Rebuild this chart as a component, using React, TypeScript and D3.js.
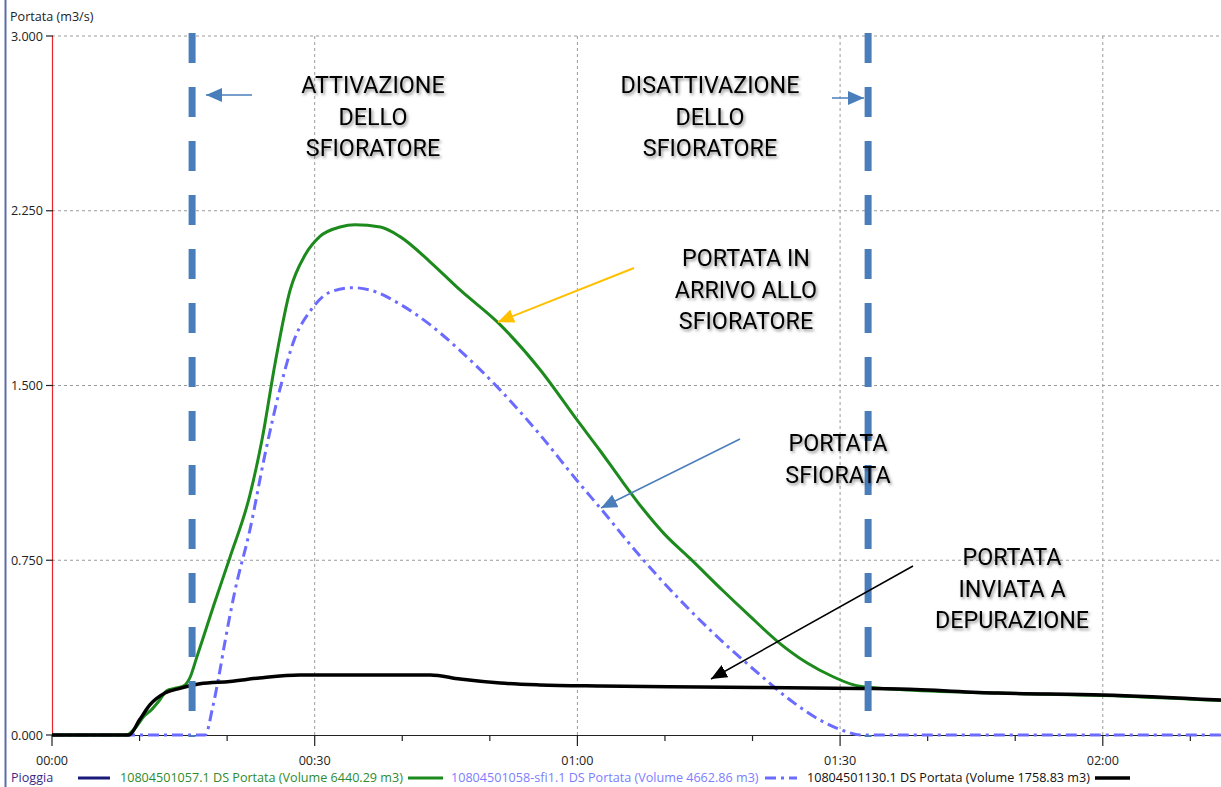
import React from "react";
import * as d3 from "d3";

// Time axis in minutes from 00:00, flow in m3/s
const X_MAX = 133.5;
const Y_TICKS = [0, 0.75, 1.5, 2.25, 3.0];
const X_MAJOR = [0, 30, 60, 90, 120];
const X_MINOR = [10, 20, 40, 50, 70, 80, 100, 110, 130];
const X_LABELS = ["00:00", "00:30", "01:00", "01:30", "02:00"];

// Incoming flow to the overflow structure (green)
const inflowT = [0, 8.5, 9.5, 10.5, 11.4, 12.3, 13.1, 14.0, 15.0, 15.8, 16.5, 17.2, 18.5, 20.3, 22.6, 24.0, 25.5, 27.2, 28.9, 30.6, 32.9, 34.6, 37.5, 39.7, 43.2, 46.6, 51.2, 55.7, 60.0, 62.6, 64.9, 67.5, 70.0, 72.8, 76.6, 79.7, 82.9, 86.2, 89.2, 91.9, 96.8, 108, 120, 133.5];
const inflowQ = [0, 0, 0.03, 0.08, 0.11, 0.15, 0.19, 0.2, 0.21, 0.25, 0.33, 0.41, 0.56, 0.76, 1.03, 1.27, 1.6, 1.91, 2.06, 2.14, 2.18, 2.19, 2.18, 2.14, 2.03, 1.91, 1.76, 1.57, 1.35, 1.22, 1.1, 0.97, 0.86, 0.76, 0.62, 0.51, 0.4, 0.31, 0.25, 0.212, 0.195, 0.18, 0.17, 0.148];

// Overflowed flow (blue dash-dot)
const spillT = [0, 17.5, 18.3, 19.0, 19.8, 20.9, 22.6, 24.3, 26.0, 27.7, 29.5, 31.7, 34.3, 36.3, 39.7, 43.2, 46.6, 51.2, 55.7, 60.0, 62.7, 67.1, 71.7, 76.3, 80.8, 84.3, 87.7, 90.5, 92.3, 133.5];
const spillQ = [0, 0, 0.11, 0.24, 0.41, 0.62, 0.88, 1.2, 1.48, 1.7, 1.82, 1.9, 1.92, 1.91, 1.85, 1.76, 1.65, 1.48, 1.29, 1.09, 0.97, 0.77, 0.58, 0.41, 0.26, 0.15, 0.064, 0.017, 0, 0];

// Flow sent to treatment (black)
const treatT = [0, 8.8, 10.0, 11.2, 12.9, 14.6, 16.9, 20.3, 23.7, 28.3, 34.0, 43.2, 46.6, 51.2, 55.7, 62.6, 74.0, 92.3, 96.8, 108, 120, 133.5];
const treatQ = [0, 0, 0.065, 0.13, 0.18, 0.2, 0.22, 0.23, 0.245, 0.258, 0.258, 0.258, 0.24, 0.223, 0.215, 0.21, 0.206, 0.2, 0.197, 0.18, 0.172, 0.15];

// Activation / deactivation times of the overflow (minutes)
const EVENTS = [16.0, 93.2];

const LEGEND = [
  { label: "10804501057.1 DS Portata (Volume 6440.29 m3)", color: "#2e8b2e" },
  { label: "10804501058-sfi1.1 DS Portata (Volume 4662.86 m3)", color: "#7d7dff" },
  { label: "10804501130.1 DS Portata (Volume 1758.83 m3)", color: "#111" },
];

const W = 1221;
const H = 787;

export default function App() {
  const x = d3.scaleLinear().domain([0, X_MAX]).range([52, 1221]);
  const y = d3.scaleLinear().domain([0, 3]).range([735, 36]);

  const line = (ts: number[], qs: number[]) =>
    d3
      .line<number>()
      .x((_, i) => x(ts[i]))
      .y((d) => y(d))
      .curve(d3.curveMonotoneX)(qs) || "";

  const annFont = "Roboto, 'Open Sans', sans-serif";
  const axFont = "'Open Sans', 'Noto Sans', sans-serif";
  const axSize = 12.6;

  const annotations = [
    { cx: 373, y0: 93, lines: ["ATTIVAZIONE", "DELLO", "SFIORATORE"] },
    { cx: 710, y0: 93, lines: ["DISATTIVAZIONE", "DELLO", "SFIORATORE"] },
    { cx: 746, y0: 266, lines: ["PORTATA IN", "ARRIVO ALLO", "SFIORATORE"] },
    { cx: 838, y0: 451, lines: ["PORTATA", "SFIORATA"] },
    { cx: 1012, y0: 565, lines: ["PORTATA", "INVIATA A", "DEPURAZIONE"] },
  ];

  return (
    <svg
      width={W}
      height={H}
      style={{ position: "absolute", left: 0, top: 0, background: "#fff" }}
    >
      <defs>
        <filter id="txtShadow" x="-10%" y="-30%" width="130%" height="170%">
          <feDropShadow dx="1.5" dy="2" stdDeviation="1.6" floodColor="#000" floodOpacity="0.45" />
        </filter>
        <marker id="arrOrange" markerUnits="userSpaceOnUse" markerWidth="18" markerHeight="14" refX="16" refY="7" orient="auto">
          <path d="M0,0 L16,7 L0,14 Z" fill="#ffc000" />
        </marker>
        <marker id="arrBlue" markerUnits="userSpaceOnUse" markerWidth="18" markerHeight="14" refX="16" refY="7" orient="auto">
          <path d="M0,0 L16,7 L0,14 Z" fill="#4a7ebb" />
        </marker>
        <marker id="arrBlack" markerUnits="userSpaceOnUse" markerWidth="18" markerHeight="14" refX="16" refY="7" orient="auto">
          <path d="M0,0 L16,7 L0,14 Z" fill="#000" />
        </marker>
      </defs>

      {/* window frame edge */}
      <line x1={5.5} x2={5.5} y1={0} y2={H} stroke="#5a6fa6" strokeWidth={2} />

      {/* grid */}
      {Y_TICKS.filter((v) => v > 0).map((v) => (
        <line key={"gy" + v} x1={52} x2={W} y1={y(v)} y2={y(v)} stroke="#9a9a9a" strokeDasharray="3 3" strokeWidth={1} />
      ))}
      {X_MAJOR.filter((v) => v > 0).map((v) => (
        <line key={"gx" + v} x1={x(v)} x2={x(v)} y1={36} y2={735} stroke="#9a9a9a" strokeDasharray="3 3" strokeWidth={1} />
      ))}

      {/* axes */}
      <text x={10} y={21} fontFamily={axFont} fontSize={axSize} fill="#222">Portata (m3/s)</text>
      <line x1={52.5} x2={52.5} y1={36} y2={735} stroke="#e8262c" strokeWidth={1.2} />
      {Y_TICKS.map((v) => (
        <g key={"yt" + v}>
          <line x1={46} x2={53} y1={y(v)} y2={y(v)} stroke="#222" strokeWidth={1.2} />
          <text x={43} y={y(v) + 4.5} textAnchor="end" fontFamily={axFont} fontSize={axSize} fill="#222">
            {v.toFixed(3)}
          </text>
        </g>
      ))}
      <line x1={52} x2={W} y1={735.5} y2={735.5} stroke="#222" strokeWidth={1.2} />
      {X_MAJOR.map((v, i) => (
        <g key={"xt" + v}>
          <line x1={x(v)} x2={x(v)} y1={735} y2={746} stroke="#222" strokeWidth={1.2} />
          <text x={x(v)} y={765} textAnchor="middle" fontFamily={axFont} fontSize={axSize} fill="#222">
            {X_LABELS[i]}
          </text>
        </g>
      ))}
      {X_MINOR.map((v) => (
        <line key={"xm" + v} x1={x(v)} x2={x(v)} y1={735} y2={741} stroke="#222" strokeWidth={1.2} />
      ))}

      {/* series */}
      <path d={line(spillT, spillQ)} fill="none" stroke="#6b6bff" strokeWidth={3} strokeDasharray="11 5 3 5" />
      <path d={line(inflowT, inflowQ)} fill="none" stroke="#1c8a1c" strokeWidth={3} />
      <path d={line(treatT, treatQ)} fill="none" stroke="#000" strokeWidth={3.5} />

      {/* activation markers */}
      {EVENTS.map((t) => (
        <line key={"ev" + t} x1={x(t)} x2={x(t)} y1={33} y2={737} stroke="#4a7ebb" strokeWidth={7} strokeDasharray="30 24" />
      ))}

      {/* arrows */}
      <line x1={252} y1={95} x2={206} y2={95} stroke="#4a7ebb" strokeWidth={1.5} markerEnd="url(#arrBlue)" />
      <line x1={832} y1={98} x2={864} y2={98} stroke="#4a7ebb" strokeWidth={1.5} markerEnd="url(#arrBlue)" />
      <line x1={634} y1={268} x2={498} y2={322} stroke="#ffc000" strokeWidth={2} markerEnd="url(#arrOrange)" />
      <line x1={740} y1={439} x2={601} y2={508} stroke="#4a7ebb" strokeWidth={1.5} markerEnd="url(#arrBlue)" />
      <line x1={913} y1={566} x2={711} y2={679} stroke="#000" strokeWidth={1.5} markerEnd="url(#arrBlack)" />

      {/* annotations */}
      {annotations.map((a, k) => (
        <g key={"an" + k} filter="url(#txtShadow)">
          {a.lines.map((s, j) => (
            <text key={j} x={a.cx} y={a.y0 + j * 31.5} textAnchor="middle" fontFamily={annFont} fontSize={23.3} fill="#000">
              {s}
            </text>
          ))}
        </g>
      ))}

      {/* legend */}
      <g fontFamily={axFont} fontSize={axSize}>
        <text x={11} y={782} fill="#3a2a8a">Pioggia</text>
        <line x1={78} x2={110} y1={778} y2={778} stroke="#1a1a7a" strokeWidth={3} />
        <text x={120} y={782} fill={LEGEND[0].color}>{LEGEND[0].label}</text>
        <line x1={408} x2={443} y1={778} y2={778} stroke="#1c8a1c" strokeWidth={3} />
        <text x={451} y={782} fill={LEGEND[1].color}>{LEGEND[1].label}</text>
        <line x1={765} x2={797} y1={778} y2={778} stroke="#6b6bff" strokeWidth={3} strokeDasharray="11 5 3 5" />
        <text x={807} y={782} fill={LEGEND[2].color}>{LEGEND[2].label}</text>
        <line x1={1095} x2={1130} y1={778} y2={778} stroke="#000" strokeWidth={3.5} />
      </g>
    </svg>
  );
}
